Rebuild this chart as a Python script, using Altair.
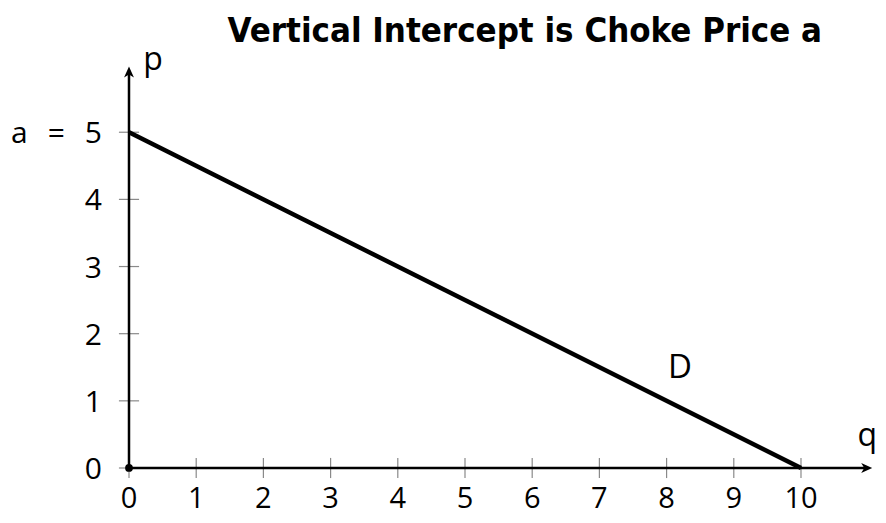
import altair as alt
import pandas as pd

# ---- data ----
q_vals = [0, 10]
p_vals = [5, 0]
x_ticks = [0, 1, 2, 3, 4, 5, 6, 7, 8, 9, 10]
x_tick_labels = ["0", "1", "2", "3", "4", "5", "6", "7", "8", "9", "10"]
y_ticks = [0, 1, 2, 3, 4, 5]
y_tick_labels = ["0", "1", "2", "3", "4", "a\u2002\u2009=\u2002\u20095"]
title_text = ["Vertical Intercept is Choke Price a"]
curve_label = ["D"]
curve_label_x = [8.2]
curve_label_y = [1.49]
x_axis_end = 11.06
y_axis_end = 5.98

FONT = "Open Sans"
x_scale = alt.Scale(domain=[-1.8006, 11.146], nice=False, zero=False)
y_scale = alt.Scale(domain=[-0.7, 6.85], nice=False, zero=False)

def X(field="x"):
    return alt.X(f"{field}:Q", scale=x_scale, axis=None)

def Y(field="y"):
    return alt.Y(f"{field}:Q", scale=y_scale, axis=None)

demand = pd.DataFrame({"x": q_vals, "y": p_vals})
xt = pd.DataFrame({"x": x_ticks, "label": x_tick_labels, "y": [0] * len(x_ticks),
                   "y1": [-0.15] * len(x_ticks), "y2": [0.15] * len(x_ticks)})
yt = pd.DataFrame({"y": y_ticks, "label": y_tick_labels, "x": [0] * len(y_ticks),
                   "x1": [-0.15] * len(y_ticks), "x2": [0.15] * len(y_ticks)})

x_tick_marks = alt.Chart(xt).mark_rule(color="#8a8a8a", strokeWidth=1.2).encode(
    x=X(), y=Y("y1"), y2="y2:Q")
y_tick_marks = alt.Chart(yt).mark_rule(color="#8a8a8a", strokeWidth=1.2).encode(
    y=Y(), x=X("x1"), x2="x2:Q")

ax_h = alt.Chart(pd.DataFrame({"x": [0], "x2": [x_axis_end - 0.1], "y": [0]})).mark_rule(
    color="black", strokeWidth=2.5).encode(x=X(), x2="x2:Q", y=Y())
ax_v = alt.Chart(pd.DataFrame({"x": [0], "y": [0], "y2": [y_axis_end - 0.1]})).mark_rule(
    color="black", strokeWidth=2.5).encode(x=X(), y=Y(), y2="y2:Q")

arrow_shape = "M1,0 L-1,-0.9 L-0.45,0 L-1,0.9 Z"
arr_h = alt.Chart(pd.DataFrame({"x": [x_axis_end - 0.082], "y": [0]})).mark_point(
    shape=arrow_shape, size=121, filled=True, color="black", opacity=1, angle=0).encode(x=X(), y=Y())
arr_v = alt.Chart(pd.DataFrame({"x": [0], "y": [y_axis_end - 0.082]})).mark_point(
    shape=arrow_shape, size=121, filled=True, color="black", opacity=1, angle=270).encode(x=X(), y=Y())

line = alt.Chart(demand).mark_line(color="black", strokeWidth=4.5).encode(x=X(), y=Y())

origin = alt.Chart(pd.DataFrame({"x": [0], "y": [0]})).mark_circle(
    size=60, color="black", opacity=1).encode(x=X(), y=Y())

x_labels = alt.Chart(xt).mark_text(font=FONT, fontSize=29, dy=31, baseline="middle",
                                   align="center", color="black").encode(x=X(), y=Y(), text="label:N")
y_labels = alt.Chart(yt).mark_text(font=FONT, fontSize=30, dx=-27, dy=2, baseline="middle",
                                   align="right", color="black").encode(x=X(), y=Y(), text="label:N")

d_label = alt.Chart(pd.DataFrame({"x": curve_label_x, "y": curve_label_y, "t": curve_label})).mark_text(
    font=FONT, fontSize=33, baseline="middle", align="center", color="black").encode(x=X(), y=Y(), text="t:N")
p_label = alt.Chart(pd.DataFrame({"x": [0.357], "y": [5.93], "t": ["p"]})).mark_text(
    font=FONT, fontSize=32, baseline="alphabetic", align="center", color="black").encode(x=X(), y=Y(), text="t:N")
q_label = alt.Chart(pd.DataFrame({"x": [10.84], "y": [0.33], "t": ["q"]})).mark_text(
    font=FONT, fontSize=32, baseline="alphabetic", align="left", color="black").encode(x=X(), y=Y(), text="t:N")

title = alt.Chart(pd.DataFrame({"x": [5.89], "y": [6.34], "t": title_text})).mark_text(
    font="Liberation Sans Narrow, DejaVu Sans Condensed", fontWeight="bold", fontSize=34.5,
    baseline="alphabetic", align="center", color="black").encode(x=X(), y=Y(), text="t:N")

chart = alt.layer(
    x_tick_marks, y_tick_marks, ax_h, ax_v, arr_h, arr_v, line, origin,
    x_labels, y_labels, d_label, p_label, q_label, title
).properties(
    width=870, height=507,
    padding=0,
    autosize=alt.AutoSizeParams(type="none"),
).configure_view(stroke=None)

chart.save("out.html", embed_options={"renderer": "svg", "actions": False})
